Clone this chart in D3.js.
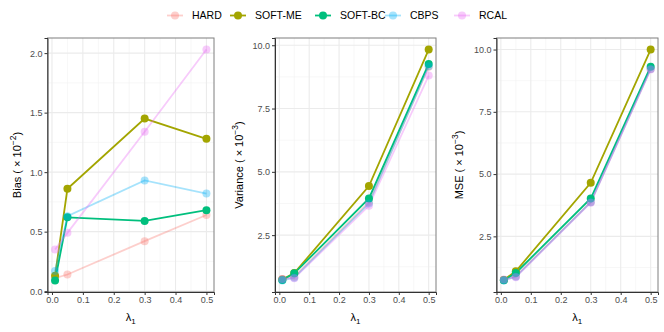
<!DOCTYPE html>
<html lang="en">
<head>
<meta charset="utf-8">
<title>Bias, variance and MSE</title>
<style>
  body { margin: 0; background: white; }
  svg { font-family: "Liberation Sans", Arial, sans-serif; }
  .tick text { fill: #4d4d4d; font-size: 9px; }
  .axis-title { fill: black; font-size: 11px; }
  .legend text { fill: black; font-size: 10.5px; }
</style>
</head>
<body>
<svg width="664" height="332"></svg>
<script src="https://d3js.org/d3.v7.min.js"></script>
<script>
// ---- data ----
var lambda = [0.01, 0.05, 0.3, 0.5];
var methods = ["HARD", "SOFT-ME", "SOFT-BC", "CBPS", "RCAL"];
var methodColors = ["#F8766D", "#A3A500", "#00BF7D", "#00B0F6", "#E76BF3"];
var methodAlpha = [0.35, 1, 1, 0.35, 0.35];

// Bias (x 10^-2), rows follow methods
var biasValues = [
  [0.11, 0.14, 0.42, 0.64],
  [0.13, 0.86, 1.45, 1.28],
  [0.09, 0.62, 0.59, 0.68],
  [0.17, 0.63, 0.93, 0.82],
  [0.35, 0.49, 1.34, 2.03]
];
// Variance (x 10^-3)
var varianceValues = [
  [0.77, 0.86, 3.80, 9.15],
  [0.75, 1.00, 4.44, 9.83],
  [0.73, 0.99, 3.95, 9.26],
  [0.71, 0.82, 3.75, 9.17],
  [0.77, 0.80, 3.66, 8.80]
];
// MSE (x 10^-3)
var mseValues = [
  [0.76, 0.90, 3.88, 9.22],
  [0.75, 1.10, 4.65, 10.00],
  [0.74, 1.03, 4.02, 9.31],
  [0.73, 0.88, 3.87, 9.22],
  [0.77, 0.86, 3.85, 9.20]
];

var xTicks = [0, 0.1, 0.2, 0.3, 0.4, 0.5];
var biasTicks = [0, 0.5, 1, 1.5, 2];
var varTicks = [2.5, 5, 7.5, 10];

var panels = [
  {label: "Bias", exp: "\u22122", values: biasValues, ticks: biasTicks, left: 47.5, right: 214, titleX: 21},
  {label: "Variance", exp: "\u22123", values: varianceValues, ticks: varTicks, left: 275, right: 436, titleX: 243},
  {label: "MSE", exp: "\u22123", values: mseValues, ticks: varTicks, left: 496.5, right: 658, titleX: 463}
];

var svg = d3.select("svg"),
    panelTop = 38, panelBottom = 292;

// ggplot style 5% expansion
function expand(lo, hi) {
  var d = (hi - lo) * 0.05;
  return [lo - d, hi + d];
}

function midpoints(t) {
  var m = [];
  for (var i = 0; i < t.length - 1; i++) m.push((t[i] + t[i + 1]) / 2);
  var step = t[1] - t[0];
  m.unshift(t[0] - step / 2);
  m.push(t[t.length - 1] + step / 2);
  return m;
}

panels.forEach(function(p) {
  var x = d3.scaleLinear()
      .domain(expand(d3.min(lambda), d3.max(lambda)))
      .range([p.left, p.right]);
  var all = d3.merge(p.values);
  var y = d3.scaleLinear()
      .domain(expand(d3.min(all), d3.max(all)))
      .range([panelBottom, panelTop]);

  var g = svg.append("g");

  // grid
  var xd = x.domain(), yd = y.domain();
  var inX = function(v) { return v >= xd[0] && v <= xd[1]; };
  var inY = function(v) { return v >= yd[0] && v <= yd[1]; };

  g.selectAll(null).data(midpoints(xTicks).filter(inX)).enter()
    .append("line")
      .attr("x1", function(d) { return x(d); }).attr("x2", function(d) { return x(d); })
      .attr("y1", panelTop).attr("y2", panelBottom)
      .attr("stroke", "#f2f2f2").attr("stroke-width", 0.6);
  g.selectAll(null).data(midpoints(p.ticks).filter(inY)).enter()
    .append("line")
      .attr("y1", function(d) { return y(d); }).attr("y2", function(d) { return y(d); })
      .attr("x1", p.left).attr("x2", p.right)
      .attr("stroke", "#f2f2f2").attr("stroke-width", 0.6);
  g.selectAll(null).data(xTicks).enter()
    .append("line")
      .attr("x1", function(d) { return x(d); }).attr("x2", function(d) { return x(d); })
      .attr("y1", panelTop).attr("y2", panelBottom)
      .attr("stroke", "#ebebeb").attr("stroke-width", 1.1);
  g.selectAll(null).data(p.ticks).enter()
    .append("line")
      .attr("y1", function(d) { return y(d); }).attr("y2", function(d) { return y(d); })
      .attr("x1", p.left).attr("x2", p.right)
      .attr("stroke", "#ebebeb").attr("stroke-width", 1.1);

  // series: lines first, then points
  var line = d3.line()
      .x(function(d, i) { return x(lambda[i]); })
      .y(function(d) { return y(d); });

  p.values.forEach(function(vals, k) {
    g.append("path")
      .attr("d", line(vals))
      .attr("fill", "none")
      .attr("stroke", methodColors[k])
      .attr("stroke-opacity", methodAlpha[k])
      .attr("stroke-width", 1.8);
  });
  p.values.forEach(function(vals, k) {
    g.selectAll(null).data(vals).enter()
      .append("circle")
        .attr("cx", function(d, i) { return x(lambda[i]); })
        .attr("cy", function(d) { return y(d); })
        .attr("r", 4)
        .attr("fill", methodColors[k])
        .attr("fill-opacity", methodAlpha[k]);
  });

  // border
  g.append("rect")
    .attr("x", p.left).attr("y", panelTop)
    .attr("width", p.right - p.left).attr("height", panelBottom - panelTop)
    .attr("fill", "none").attr("stroke", "#7f7f7f").attr("stroke-width", 1);

  // axes
  var xAxis = d3.axisBottom(x).tickValues(xTicks).tickFormat(d3.format(".1f")).tickSize(3).tickPadding(2);
  var yAxis = d3.axisLeft(y).tickValues(p.ticks).tickFormat(d3.format(".1f")).tickSize(3).tickPadding(2);
  var gx = g.append("g").attr("transform", "translate(0," + panelBottom + ")").call(xAxis);
  var gy = g.append("g").attr("transform", "translate(" + p.left + ",0)").call(yAxis);
  [gx, gy].forEach(function(a) {
    a.attr("font-size", null).attr("font-family", null);
    a.select(".domain").attr("stroke", "#333");
    a.selectAll(".tick line").attr("stroke", "#333");
  });

  // x title
  var xt = g.append("text").attr("class", "axis-title")
    .attr("x", (p.left + p.right) / 2).attr("y", 321)
    .attr("text-anchor", "middle");
  xt.append("tspan").text("\u03bb");
  xt.append("tspan").attr("font-size", "8px").attr("dy", 3).text("1");

  // y title
  var yt = g.append("text").attr("class", "axis-title")
    .attr("transform", "translate(" + p.titleX + "," + ((panelTop + panelBottom) / 2) + ")rotate(-90)")
    .attr("text-anchor", "middle");
  yt.append("tspan").text(p.label + " ( \u00d7 10");
  yt.append("tspan").attr("font-size", "8.5px").attr("dy", -5).text(p.exp);
  yt.append("tspan").attr("dy", 5).text(")");
});

// legend
var legendX = [175, 238, 323, 393, 462];
var legend = svg.append("g").attr("class", "legend");
methods.forEach(function(m, k) {
  var lg = legend.append("g").attr("transform", "translate(" + legendX[k] + ",15.5)");
  lg.append("line")
    .attr("x1", -8).attr("x2", 8)
    .attr("stroke", methodColors[k]).attr("stroke-opacity", methodAlpha[k])
    .attr("stroke-width", 1.8);
  lg.append("circle")
    .attr("r", 4)
    .attr("fill", methodColors[k]).attr("fill-opacity", methodAlpha[k]);
  lg.append("text")
    .attr("x", 17).attr("dy", "0.35em")
    .text(m);
});
</script>
</body>
</html>
